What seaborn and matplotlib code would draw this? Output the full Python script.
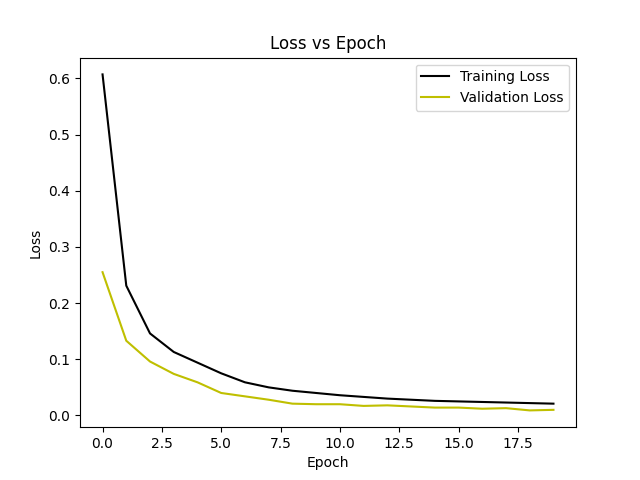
import matplotlib
matplotlib.use("Agg")
import matplotlib.pyplot as plt
import seaborn as sns

epochs = list(range(20))
train_loss = [0.607, 0.231, 0.146, 0.113, 0.094, 0.075, 0.059, 0.050, 0.044, 0.040,
              0.036, 0.033, 0.030, 0.028, 0.026, 0.025, 0.024, 0.023, 0.022, 0.021]
val_loss = [0.255, 0.133, 0.096, 0.074, 0.059, 0.040, 0.034, 0.028, 0.021, 0.020,
            0.020, 0.017, 0.018, 0.016, 0.014, 0.014, 0.012, 0.013, 0.009, 0.010]

fig, ax = plt.subplots(figsize=(6.4, 4.8), dpi=100)
sns.lineplot(x=epochs, y=train_loss, color="k", label="Training Loss", ax=ax)
sns.lineplot(x=epochs, y=val_loss, color="y", label="Validation Loss", ax=ax)
ax.set_title("Loss vs Epoch")
ax.set_xlabel("Epoch")
ax.set_ylabel("Loss")
ax.legend(loc="upper right")
fig.savefig("out.png")
